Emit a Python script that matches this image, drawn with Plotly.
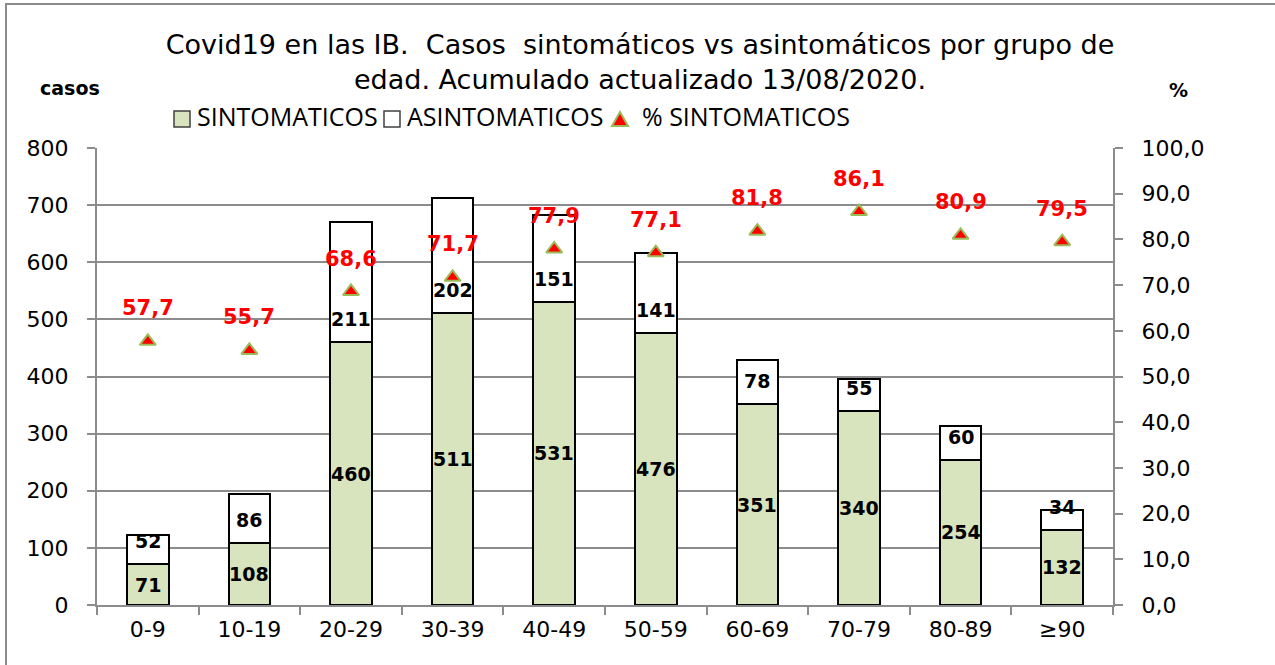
import plotly.graph_objects as go

categories = ["0-9", "10-19", "20-29", "30-39", "40-49", "50-59", "60-69", "70-79", "80-89", "≥90"]
sintomaticos = [71, 108, 460, 511, 531, 476, 351, 340, 254, 132]
asintomaticos = [52, 86, 211, 202, 151, 141, 78, 55, 60, 34]
pct_sintomaticos = [57.7, 55.7, 68.6, 71.7, 77.9, 77.1, 81.8, 86.1, 80.9, 79.5]

series_names = ["SINTOMATICOS", "ASINTOMATICOS", "% SINTOMATICOS"]

title_text = ("Covid19 en las IB.  Casos  sintomáticos vs asintomáticos por grupo de<br>"
              "edad. Acumulado actualizado 13/08/2020.")

GREEN = "#D7E4BD"
GRID = "#8C8C8C"
TRI_FILL = "#FF0000"
TRI_LINE = "#9BBB59"
TICKFONT = dict(family="DejaVu Sans", size=22, color="black")
BOLD19 = dict(family="DejaVu Sans", size=19, color="black", weight="bold")

L, R, T, B = 97, 162, 148, 60
W, H = 1275, 665
pw, ph = W - L - R, H - T - B


def px_x(px):
    return (px - L) / pw


def px_y(py):
    return 1 - (py - T) / ph


fig = go.Figure()
fig.add_trace(go.Bar(
    x=categories, y=sintomaticos, name=series_names[0],
    marker=dict(color=GREEN, line=dict(color="black", width=2)),
))
fig.add_trace(go.Bar(
    x=categories, y=asintomaticos, name=series_names[1],
    marker=dict(color="white", line=dict(color="black", width=2)),
))
fig.add_trace(go.Scatter(
    x=categories, y=pct_sintomaticos, name=series_names[2], yaxis="y2",
    mode="markers",
    marker=dict(symbol="triangle-up", size=14, color=TRI_FILL,
                line=dict(color=TRI_LINE, width=2)),
))

annotations = []
for c, s, a, p in zip(categories, sintomaticos, asintomaticos, pct_sintomaticos):
    annotations.append(dict(x=c, y=s / 2, xref="x", yref="y", text=str(s), showarrow=False,
                            xanchor="center", yanchor="middle", font=BOLD19))
    annotations.append(dict(x=c, y=s, xref="x", yref="y", text=str(a), showarrow=False, yshift=23,
                            xanchor="center", yanchor="middle", font=BOLD19))
    annotations.append(dict(x=c, y=p, xref="x", yref="y2", text=f"{p:.1f}".replace(".", ","),
                            showarrow=False, yshift=33, xanchor="center", yanchor="middle",
                            font=dict(family="DejaVu Sans", size=21, color=TRI_FILL, weight="bold")))

# axis titles
annotations.append(dict(x=px_x(70), y=px_y(88), xref="paper", yref="paper", text="casos",
                        showarrow=False, xanchor="center", yanchor="middle", font=BOLD19))
annotations.append(dict(x=px_x(1178), y=px_y(90), xref="paper", yref="paper", text="%",
                        showarrow=False, xanchor="center", yanchor="middle", font=BOLD19))

# legend (drawn manually to match the compact spacing of the original)
LEG_Y = 116
leg_text_x = [195, 405, 640]
for name, tx in zip(series_names, leg_text_x):
    annotations.append(dict(x=px_x(tx), y=px_y(LEG_Y), xref="paper", yref="paper", text=name,
                            showarrow=False, xanchor="left", yanchor="middle",
                            font=dict(family="Open Sans", size=25, color="black")))

shapes = [
    dict(type="rect", xref="paper", yref="paper", x0=px_x(174), x1=px_x(190), y0=px_y(127), y1=px_y(111),
         line=dict(color="#404040", width=1.5), fillcolor=GREEN),
    dict(type="rect", xref="paper", yref="paper", x0=px_x(384), x1=px_x(400), y0=px_y(127), y1=px_y(111),
         line=dict(color="#404040", width=1.5), fillcolor="white"),
    dict(type="path", xref="paper", yref="paper",
         path=f"M {px_x(612)} {px_y(126)} L {px_x(628)} {px_y(126)} L {px_x(620)} {px_y(112)} Z",
         line=dict(color=TRI_LINE, width=2), fillcolor=TRI_FILL),
    dict(type="rect", xref="paper", yref="paper",
         x0=px_x(6), x1=px_x(1290), y0=px_y(680), y1=px_y(4),
         line=dict(color=GRID, width=2), fillcolor="rgba(0,0,0,0)", layer="below"),
]

fig.update_layout(
    width=W, height=H,
    margin=dict(l=L, r=R, t=T, b=B, autoexpand=False),
    paper_bgcolor="white", plot_bgcolor="white",
    barmode="stack", bargap=0.59,
    separators=",.",
    title=dict(text=title_text, x=640 / W, xref="container", xanchor="center",
               y=1 - 54 / H, yanchor="middle",
               font=dict(family="DejaVu Sans", size=27, color="black")),
    showlegend=False,
    xaxis=dict(range=[-0.5, 9.5], showline=True, linecolor=GRID, linewidth=2, ticks="outside",
               tickson="boundaries", ticklen=8, tickcolor=GRID, tickwidth=2, tickfont=TICKFONT,
               showgrid=False, automargin=False, ticklabelstandoff=4),
    yaxis=dict(range=[0, 800], dtick=100, showline=True, linecolor=GRID, linewidth=2,
               ticks="outside", ticklen=8, tickcolor=GRID, tickwidth=2, tickfont=TICKFONT,
               showgrid=True, gridcolor=GRID, gridwidth=2, zeroline=False, ticklabelstandoff=14,
               automargin=False),
    yaxis2=dict(range=[0, 100], dtick=10, overlaying="y", side="right", showline=True,
                linecolor=GRID, linewidth=2, ticks="outside", ticklen=8, tickcolor=GRID, tickwidth=2,
                tickfont=TICKFONT, tickformat=".1f", showgrid=False, zeroline=False,
                ticklabelstandoff=14, automargin=False),
    annotations=annotations,
    shapes=shapes,
)

fig.write_html("out.html", config={"displayModeBar": False},
               post_script="document.body.style.margin='0';")
